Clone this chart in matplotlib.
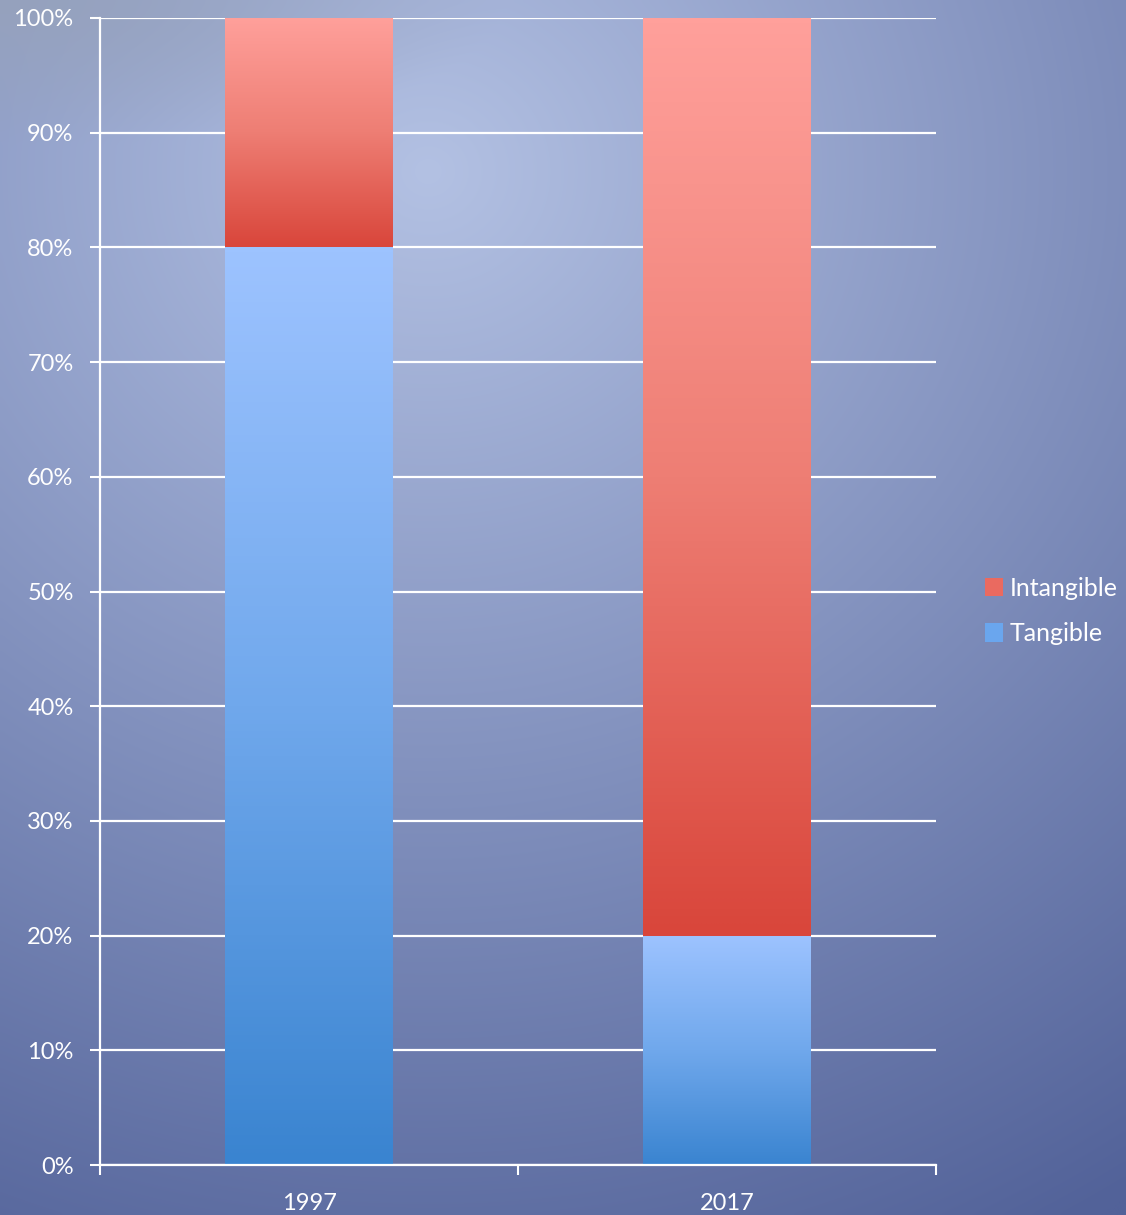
import numpy as np
import matplotlib
matplotlib.use("Agg")
import matplotlib.pyplot as plt
from matplotlib.colors import LinearSegmentedColormap
from matplotlib.patches import Rectangle
import matplotlib.patheffects as pe

categories = ["1997", "2017"]
tangible = [80, 20]
intangible = [20, 80]
series_names = ["Intangible", "Tangible"]
yticks = [0, 10, 20, 30, 40, 50, 60, 70, 80, 90, 100]

plt.rcParams['font.family'] = ['Lato', 'DejaVu Sans']

fig = plt.figure(figsize=(11.26, 12.15), dpi=100)

# background gradient
bg = fig.add_axes([0, 0, 1, 1], zorder=-10)
ny, nx = 300, 280
yy, xx = np.mgrid[0:1:ny*1j, 0:1:nx*1j]
d = np.sqrt(((xx - 0.38) / 1.15) ** 2 + ((yy - 0.14) / 1.0) ** 2)
d = np.clip(d / 1.0, 0, 1)
c0 = np.array([0xB3, 0xC1, 0xE3]) / 255
c1 = np.array([0x52, 0x62, 0x99]) / 255
img = c0[None, None, :] * (1 - d[..., None]) + c1[None, None, :] * d[..., None]
# greyish top-left corner
tl = np.clip(1 - np.sqrt((xx / 0.45) ** 2 + (yy / 0.12) ** 2), 0, 1)
grey = np.array([0x96, 0xA2, 0xBD]) / 255
img = img * (1 - tl[..., None]) + grey[None, None, :] * tl[..., None]
bg.imshow(img, extent=[0, 1, 1, 0], aspect='auto', interpolation='bicubic')
bg.set_xlim(0, 1); bg.set_ylim(1, 0)
bg.axis('off')

ax = fig.add_axes([100/1126, 1 - 1165/1215, 836/1126, 1147/1215])
ax.patch.set_alpha(0)

red_cmap = LinearSegmentedColormap.from_list('r', ['#D9463B', '#EE7E74', '#FFA09B'])
blue_cmap = LinearSegmentedColormap.from_list('b', ['#3A84D0', '#70A8EC', '#9DC3FF'])

x = np.arange(len(categories))
width = 0.40

def grad_bar(xc, bottom, height, cmap):
    rect = Rectangle((xc - width/2, bottom), width, height, facecolor='none',
                     edgecolor='none', zorder=3)
    ax.add_patch(rect)
    shadow = Rectangle((xc - width/2, bottom), width, height, facecolor='#33406a',
                       edgecolor='none', alpha=0.25, zorder=2,
                       path_effects=[pe.withSimplePatchShadow(offset=(0, 0), shadow_rgbFace='#33406a', alpha=0.3)])
    ax.add_patch(shadow)
    grad = np.linspace(0, 1, 256).reshape(-1, 1)
    im = ax.imshow(grad, cmap=cmap, aspect='auto', origin='lower',
                   extent=[xc - width/2, xc + width/2, bottom, bottom + height],
                   zorder=3, interpolation='bilinear')
    im.set_clip_path(rect)

for i in range(len(categories)):
    grad_bar(x[i], 0, tangible[i], blue_cmap)
    grad_bar(x[i], tangible[i], intangible[i], red_cmap)

ax.set_xlim(-0.5, 1.5)
ax.set_ylim(0, 100)
ax.set_yticks(yticks)
ax.set_yticklabels([f"{v}%" for v in yticks])
ax.set_xticks(x)
ax.set_xticklabels(categories)
ax.set_xticks([-0.5, 0.5, 1.5], minor=True)
ax.tick_params(axis='x', which='major', length=0, pad=20, labelsize=17, colors='white')
ax.tick_params(axis='x', which='minor', length=7, width=1.5, color='white')
ax.tick_params(axis='y', length=7, width=1.5, color='white', labelcolor='white', labelsize=17, pad=12)
ax.yaxis.grid(True, color='white', linewidth=1.6, zorder=1)
ax.set_axisbelow(True)
for s in ['top', 'right']:
    ax.spines[s].set_visible(False)
for s in ['left', 'bottom']:
    ax.spines[s].set_color('white')
    ax.spines[s].set_linewidth(1.6)
    ax.spines[s].set_zorder(4)

# legend
handles = [Rectangle((0, 0), 1, 1, facecolor='#EA6A60', edgecolor='none'),
           Rectangle((0, 0), 1, 1, facecolor='#6AA6EE', edgecolor='none')]
leg = fig.legend(handles, series_names, loc='center left', bbox_to_anchor=(962/1126, 1 - 611/1215),
                 frameon=False, fontsize=18, labelcolor='white', handlelength=0.75,
                 handleheight=0.75, handletextpad=0.25, labelspacing=0.9)

fig.savefig('out.png', dpi=100)
